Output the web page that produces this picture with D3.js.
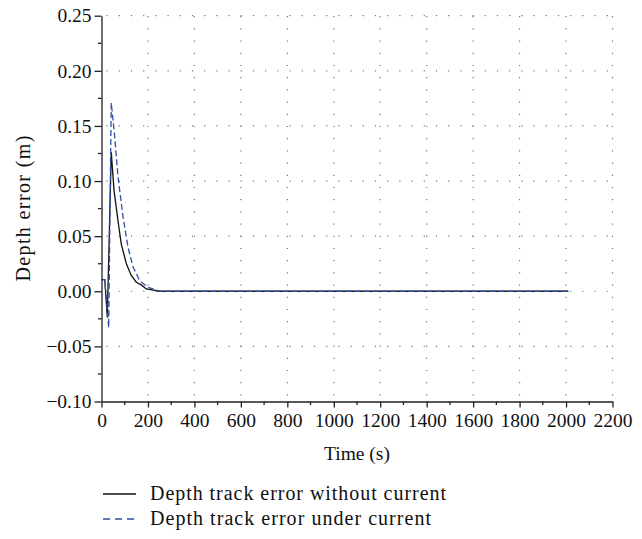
<!DOCTYPE html>
<html>
<head>
<meta charset="utf-8">
<script src="https://cdn.jsdelivr.net/npm/d3@7"></script>
<style>
  html, body { margin: 0; padding: 0; background: #fff; }
  svg { display: block; }
  text { font-family: "Liberation Serif", "DejaVu Serif", serif; fill: #111; }
</style>
</head>
<body>
<svg id="chart" width="642" height="539"></svg>
<script>
// ---- data ----
const timeNoCurrent = [0, 14, 25, 42, 54, 71, 85, 107, 128, 150, 171, 193, 236, 246, 2010];
const errNoCurrent  = [0.0105, 0.0105, -0.0236, 0.126, 0.0915, 0.064, 0.043, 0.025, 0.0143, 0.0082, 0.0058, 0.0021, 0.0006, 0, 0];

const timeCurrent = [0, 14, 31, 42, 57, 71, 93, 114, 136, 164, 200, 243, 255, 2010];
const errCurrent  = [0.0105, 0.0105, -0.033, 0.171, 0.14, 0.104, 0.067, 0.04, 0.022, 0.0097, 0.0036, 0.0006, 0, 0];

const xTicks = [0, 200, 400, 600, 800, 1000, 1200, 1400, 1600, 1800, 2000, 2200];
const yTicks = [-0.10, -0.05, 0.00, 0.05, 0.10, 0.15, 0.20, 0.25];
const xMinorTicks = [100, 300, 500, 700, 900, 1100, 1300, 1500, 1700, 1900, 2100];
const yMinorTicks = [-0.075, -0.025, 0.025, 0.075, 0.125, 0.175, 0.225];

const seriesNames = ["Depth track error without current", "Depth track error under current"];
const xTitle = "Time (s)";
const yTitle = "Depth error (m)";

(function () {
// ---- layout ----
const pL = 101.5, pR = 612.5, pT = 15.7, pB = 401.5;
const FS = "19.5px";
const svg = d3.select("#chart");
const x = d3.scaleLinear().domain([0, 2200]).range([pL, pR]);
const y = d3.scaleLinear().domain([-0.10, 0.25]).range([pB, pT]);
const blue = "#2f4fa6";

// grid
const grid = svg.append("g").attr("stroke", "#777").attr("stroke-width", 1.2)
  .attr("stroke-dasharray", "1.2,11");
grid.selectAll("line.v").data(xTicks.filter(d => d > 0)).enter().append("line")
  .attr("x1", d => x(d)).attr("x2", d => x(d))
  .attr("y1", pB - 6).attr("y2", pT);
grid.selectAll("line.h").data(yTicks.filter(d => d > -0.10)).enter().append("line")
  .attr("y1", d => y(d)).attr("y2", d => y(d))
  .attr("x1", pL + 5).attr("x2", pR + 6);

// series
const line = d3.line().x(d => x(d[0])).y(d => y(d[1]));
const dataNo = timeNoCurrent.map((t, i) => [t, errNoCurrent[i]]);
const dataCur = timeCurrent.map((t, i) => [t, errCurrent[i]]);

svg.append("path").datum(dataNo).attr("d", line)
  .attr("fill", "none").attr("stroke", "#111").attr("stroke-width", 1.3);
svg.append("path").datum(dataCur).attr("d", line)
  .attr("fill", "none").attr("stroke", blue).attr("stroke-width", 1.3)
  .attr("stroke-dasharray", "6,3");

// axes
const xAxis = d3.axisBottom(x).tickValues(xTicks).tickFormat(d3.format("d"))
  .tickSizeInner(6).tickSizeOuter(0).tickPadding(6);
const gx = svg.append("g").attr("transform", `translate(0,${pB})`).call(xAxis);
gx.selectAll(".tick line").attr("stroke", "#222").attr("stroke-width", 1.3);
gx.select(".domain").attr("stroke", "#222").attr("stroke-width", 1.3);
gx.selectAll(".tick text").style("font-size", FS).attr("fill", "#111")
  .style("font-family", "Liberation Serif");
gx.selectAll("line.minor").data(xMinorTicks).enter().append("line")
  .attr("x1", d => x(d)).attr("x2", d => x(d)).attr("y1", 0).attr("y2", 3.5)
  .attr("stroke", "#222").attr("stroke-width", 1.3);

const yAxis = d3.axisLeft(y).tickValues(yTicks)
  .tickFormat(d => d3.format(".2f")(d).replace("-", "\u2212"))
  .tickSizeInner(7).tickSizeOuter(0).tickPadding(3);
const gy = svg.append("g").attr("transform", `translate(${pL},0)`).call(yAxis);
gy.selectAll(".tick line").attr("stroke", "#222").attr("stroke-width", 1.3);
gy.select(".domain").attr("stroke", "#222").attr("stroke-width", 1.3);
gy.selectAll(".tick text").style("font-size", FS).attr("fill", "#111")
  .style("font-family", "Liberation Serif");
gy.selectAll("line.minor").data(yMinorTicks).enter().append("line")
  .attr("y1", d => y(d)).attr("y2", d => y(d)).attr("x1", 0).attr("x2", -3.5)
  .attr("stroke", "#222").attr("stroke-width", 1.3);

// axis titles
svg.append("text").attr("x", (pL + pR) / 2).attr("y", 460)
  .attr("text-anchor", "middle").style("font-size", FS).text(xTitle);
svg.append("text").attr("transform", `translate(29.5,${(pT + pB) / 2}) rotate(-90)`)
  .attr("text-anchor", "middle").style("font-size", "20px")
  .attr("textLength", 146).attr("lengthAdjust", "spacing").text(yTitle);

// legend
const legY = [494, 519];
const legLen = [296, 281];
const lg = svg.append("g");
lg.append("line").attr("x1", 103).attr("x2", 136).attr("y1", legY[0]).attr("y2", legY[0])
  .attr("stroke", "#111").attr("stroke-width", 1.3);
lg.append("line").attr("x1", 103).attr("x2", 136).attr("y1", legY[1]).attr("y2", legY[1])
  .attr("stroke", blue).attr("stroke-width", 1.3).attr("stroke-dasharray", "7,5");
seriesNames.forEach((n, i) => {
  lg.append("text").attr("x", 150).attr("y", legY[i] + 6)
    .style("font-size", "20px")
    .attr("textLength", legLen[i]).attr("lengthAdjust", "spacing").text(n);
});
})();
</script>
</body>
</html>
